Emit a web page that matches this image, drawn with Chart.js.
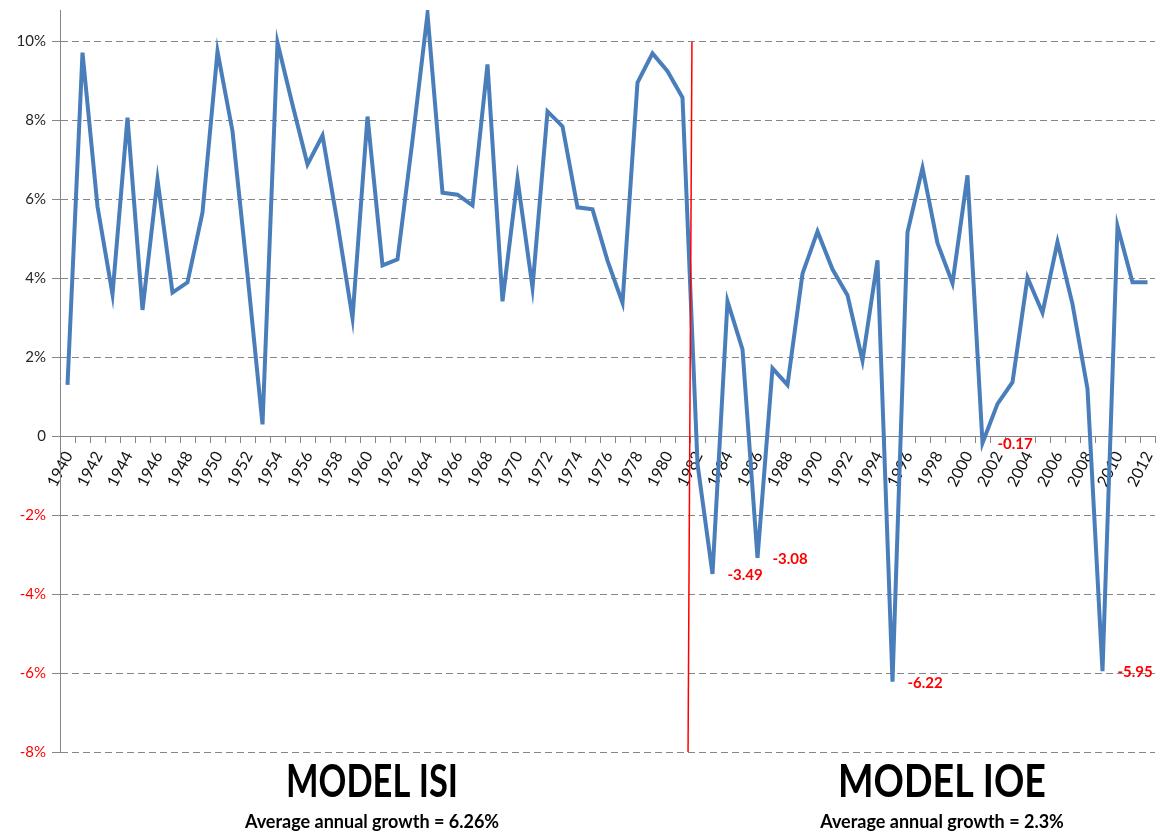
<!DOCTYPE html>
<html>
<head>
<meta charset="utf-8">
<script src="https://cdn.jsdelivr.net/npm/chart.js@4"></script>
<style>
    html, body { margin: 0; padding: 0; background: #fff; }
    #growth-chart { display: block; }
</style>
</head>
<body>
<canvas id="growth-chart" width="1157" height="834"></canvas>
<script>
/* ================================================================ */
/* Annual GDP growth, 1940-2012                                     */
/* ================================================================ */

const years = [
    '1940', '1941', '1942', '1943', '1944', '1945', '1946', '1947', '1948', '1949',
    '1950', '1951', '1952', '1953', '1954', '1955', '1956', '1957', '1958', '1959',
    '1960', '1961', '1962', '1963', '1964', '1965', '1966', '1967', '1968', '1969',
    '1970', '1971', '1972', '1973', '1974', '1975', '1976', '1977', '1978', '1979',
    '1980', '1981', '1982', '1983', '1984', '1985', '1986', '1987', '1988', '1989',
    '1990', '1991', '1992', '1993', '1994', '1995', '1996', '1997', '1998', '1999',
    '2000', '2001', '2002', '2003', '2004', '2005', '2006', '2007', '2008', '2009',
    '2010', '2011', '2012'
];

const growth = [
    1.3, 9.72, 5.82, 3.6, 8.07, 3.2, 6.5, 3.64, 3.9, 5.67,
    9.75, 7.73, 4.1, 0.3, 9.97, 8.4, 6.89, 7.62, 5.4, 3.0,
    8.1, 4.33, 4.48, 7.5, 10.7, 6.17, 6.12, 5.85, 9.42, 3.42,
    6.52, 3.77, 8.23, 7.85, 5.8, 5.75, 4.45, 3.38, 8.96, 9.7,
    9.25, 8.58, -0.7, -3.49, 3.42, 2.2, -3.08, 1.72, 1.3, 4.12,
    5.19, 4.23, 3.57, 1.92, 4.46, -6.22, 5.17, 6.8, 4.89, 3.88,
    6.61, -0.17, 0.82, 1.37, 4.02, 3.13, 4.92, 3.35, 1.2, -5.95,
    5.32, 3.9, 3.9
];

// years whose value is written next to the point
const labeledYears = ['1983', '1986', '1995', '2001', '2009'];

// y axis ticks
const yTicks = [-8, -6, -4, -2, 0, 2, 4, 6, 8, 10];

// red divider between the two models: [category index, value] at top and bottom
const dividerTop = [41.63, 10];
const dividerBottom = [41.37, -8];

const models = [
    { name: 'MODEL ISI', note: 'Average annual growth = 6.26%' },
    { name: 'MODEL IOE', note: 'Average annual growth = 2.3%' }
];

const FONT = 'Lato, "Noto Sans", sans-serif';
const GRID = '#868686';

const overlay = {
    id: 'overlay',
    afterDatasetsDraw(chart) {
        const { ctx, scales: { x, y } } = chart;
        const meta = chart.getDatasetMeta(0);

        ctx.save();
        ctx.strokeStyle = '#ff0000';
        ctx.lineWidth = 1.5;
        ctx.beginPath();
        ctx.moveTo(x.getPixelForValue(dividerTop[0]), y.getPixelForValue(dividerTop[1]));
        ctx.lineTo(x.getPixelForValue(dividerBottom[0]), y.getPixelForValue(dividerBottom[1]));
        ctx.stroke();

        ctx.fillStyle = '#ff0000';
        ctx.font = 'bold 15px ' + FONT;
        ctx.textAlign = 'left';
        ctx.textBaseline = 'middle';
        labeledYears.forEach(yr => {
            const i = years.indexOf(yr);
            const pt = meta.data[i];
            ctx.fillText(growth[i].toFixed(2), pt.x + 15, pt.y + 1);
        });
        ctx.restore();
    },
    afterDraw(chart) {
        const ctx = chart.ctx;
        const centers = [372, 942];
        const nameWidths = [172, 208];
        const noteWidths = [271, 253];
        ctx.save();
        ctx.fillStyle = '#000';
        ctx.textAlign = 'center';
        ctx.textBaseline = 'alphabetic';
        models.forEach((m, k) => {
            ctx.font = 'bold 46px ' + FONT;
            ctx.fillText(m.name, centers[k], 797, nameWidths[k]);
            ctx.font = 'bold 18px ' + FONT;
            ctx.fillText(m.note, centers[k], 828, noteWidths[k]);
        });
        ctx.restore();
    }
};

new Chart(document.getElementById('growth-chart'), {
    type: 'line',
    data: {
        labels: years,
        datasets: [{
            data: growth,
            borderColor: '#4a7ebb',
            borderWidth: 4,
            pointRadius: 0,
            tension: 0,
            fill: false
        }]
    },
    options: {
        responsive: false,
        animation: false,
        events: [],
        layout: { padding: { top: 10, right: 2, bottom: 82, left: 0 } },
        plugins: {
            legend: { display: false },
            tooltip: { enabled: false }
        },
        scales: {
            x: {
                position: { y: 0 },
                offset: true,
                afterFit: s => { s.height = 0; s.paddingLeft = 0; s.paddingRight = 0; },
                grid: {
                    offset: true,
                    drawOnChartArea: false,
                    color: GRID,
                    tickLength: 6
                },
                border: { color: GRID, width: 1 },
                ticks: {
                    autoSkip: false,
                    minRotation: 63,
                    maxRotation: 63,
                    padding: 6,
                    labelOffset: 1,
                    color: '#111',
                    font: { family: FONT, size: 16 },
                    callback: (v, i) => (i % 2 === 0 ? years[i] : '')
                }
            },
            y: {
                min: yTicks[0],
                max: 10.8,
                afterFit: s => { s.width = 60; s.paddingTop = 0; s.paddingBottom = 0; },
                afterBuildTicks: s => { s.ticks = yTicks.map(v => ({ value: v })); },
                grid: { color: GRID, tickLength: 8, tickColor: GRID },
                border: { color: GRID, width: 1, dash: [7, 4] },
                ticks: {
                    padding: 6,
                    color: c => (c.tick.value < 0 ? '#ff0000' : '#262626'),
                    font: { family: FONT, size: 15 },
                    callback: v => (v === 0 ? '0' : v + '%')
                }
            }
        }
    },
    plugins: [overlay]
});
</script>
</body>
</html>
